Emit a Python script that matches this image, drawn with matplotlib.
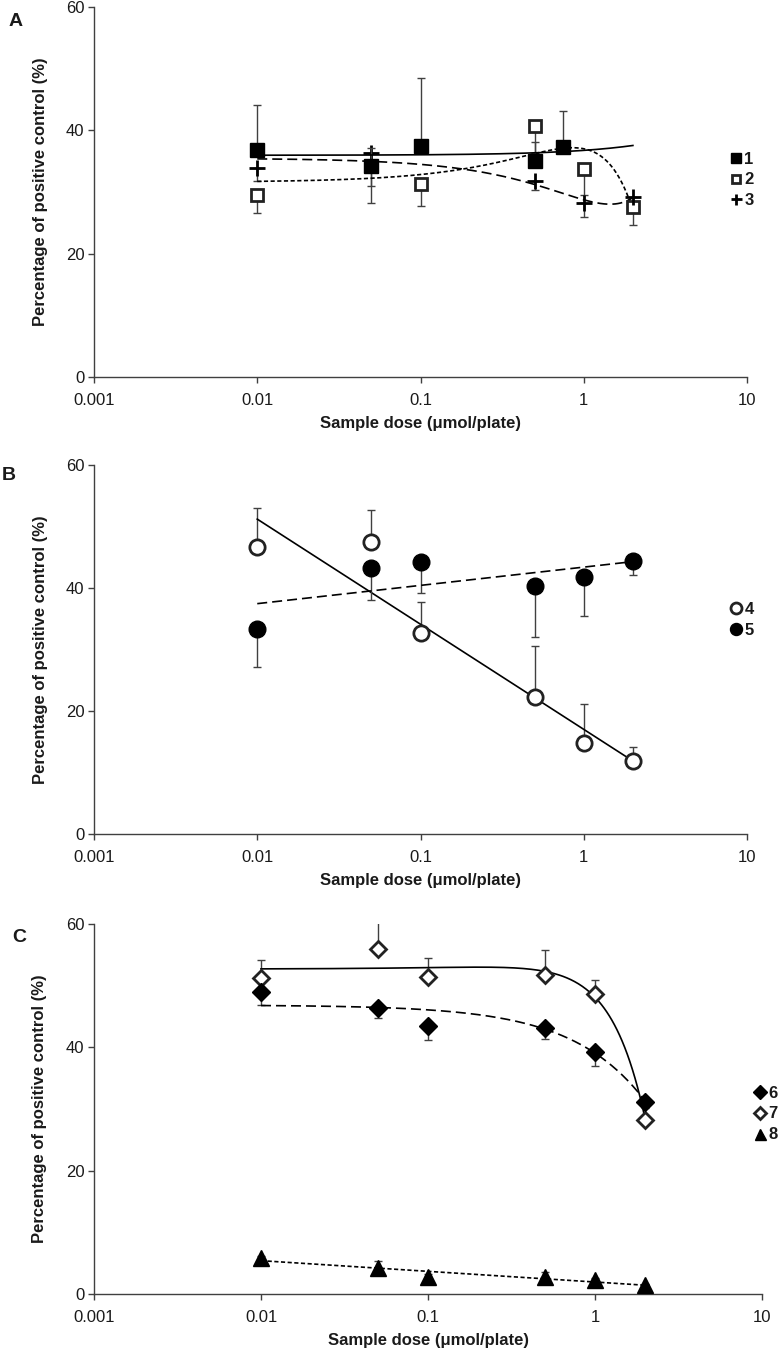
"""
Dose-response panels (A, B, C): percentage of positive control vs sample dose.
Output: out.png
"""

import matplotlib
matplotlib.use("Agg")

import numpy as np
import matplotlib.pyplot as plt
from matplotlib.lines import Line2D

plt.rcParams["font.family"] = ["Liberation Sans", "DejaVu Sans"]

# --- Data ---
# Panel A
X1 = [0.01, 0.05, 0.1, 0.5, 0.75]
Y1 = [36.8, 34.2, 37.5, 35.1, 37.3]
E1 = [7.3, 3.0, 11.0, 3.0, 5.9]        # upward

X2 = [0.01, 0.05, 0.1, 0.5, 1, 2]
Y2 = [29.5, 34.2, 31.3, 40.7, 33.8, 27.6]
E2 = [2.9, 6.0, 3.6, 4.4, 4.3, 2.9]    # downward

X3 = [0.01, 0.05, 0.5, 1, 2]
Y3 = [33.9, 36.3, 31.8, 28.2, 29.2]
E3 = [2.1, 5.4, 1.5, 2.2, 1.0]         # downward

# Panel B
X4 = [0.01, 0.05, 0.1, 0.5, 1, 2]
Y4 = [46.6, 47.4, 32.7, 22.2, 14.8, 11.9]
E4 = [6.4, 5.3, 5.0, 8.3, 6.4, 2.2]    # upward

X5 = [0.01, 0.05, 0.1, 0.5, 1, 2]
Y5 = [33.4, 43.3, 44.3, 40.4, 41.8, 44.4]
E5 = [6.2, 5.3, 5.1, 8.3, 6.3, 2.3]    # downward

# Panel C
X6 = [0.01, 0.05, 0.1, 0.5, 1, 2]
Y6 = [49.0, 46.4, 43.5, 43.2, 39.3, 31.2]
E6 = [2.1, 1.6, 2.3, 1.9, 2.3, 1.0]    # downward

X7 = [0.01, 0.05, 0.1, 0.5, 1, 2]
Y7 = [51.3, 56.0, 51.4, 51.7, 48.6, 28.2]
E7 = [2.8, 5.0, 3.1, 4.1, 2.4, 2.5]    # upward

X8 = [0.01, 0.05, 0.1, 0.5, 1, 2]
Y8 = [5.8, 4.2, 2.8, 2.7, 2.2, 1.4]
E8 = [0.3, 1.1, 0.4, 0.8, 0.4, 0.2]    # upward

X_TICKS = [0.001, 0.01, 0.1, 1, 10]
X_TICKLABELS = ["0.001", "0.01", "0.1", "1", "10"]
Y_TICKS = [0, 20, 40, 60]

INK = "#1a1a1a"
AXC = "#404040"

# marker styles
FILLED_SQ = dict(marker="s", ms=10, mfc="black", mec="black", mew=1)
OPEN_SQ = dict(marker="s", ms=8.5, mfc="white", mec="#222222", mew=2)
PLUS = dict(marker="+", ms=11, mec="black", mew=2)
OPEN_CI = dict(marker="o", ms=11, mfc="white", mec="#222222", mew=2)
FILLED_CI = dict(marker="o", ms=12, mfc="black", mec="black", mew=1)
FILLED_DI = dict(marker="D", ms=9.5, mfc="black", mec="black", mew=1)
OPEN_DI = dict(marker="D", ms=8.5, mfc="white", mec="#222222", mew=2)
TRI = dict(marker="^", ms=11, mfc="black", mec="black", mew=1)

SOLID = "-"
DASH = (0, (6, 3))
DOT = (0, (2.5, 1.5))


def trend(x, y, kind):
    """Excel-style trendline fitted to the series, drawn from 0.01 to 2."""
    x = np.asarray(x, float)
    y = np.asarray(y, float)
    xs = np.logspace(np.log10(0.01), np.log10(2), 300)
    if kind == "log":
        b, a = np.polyfit(np.log(x), y, 1)
        return xs, a + b * np.log(xs)
    deg = {"lin": 1, "poly2": 2, "poly3": 3}[kind]
    p = np.polyfit(x, y, deg)
    return xs, np.polyval(p, xs)


def plot_series(ax, x, y, e, up, style, ls, kind, z):
    x = np.asarray(x, float)
    y = np.asarray(y, float)
    e = np.asarray(e, float)
    zeros = np.zeros_like(e)
    yerr = [zeros, e] if up else [e, zeros]
    ax.errorbar(x, y, yerr=yerr, fmt="none", ecolor=AXC, elinewidth=1,
                capsize=2.6, capthick=1, zorder=z)
    xs, ys = trend(x, y, kind)
    ax.plot(xs, ys, color="black", lw=1.2, linestyle=ls, zorder=z + 1)
    ax.plot(x, y, linestyle="none", zorder=z + 2, clip_on=False, **style)


def style_axes(ax):
    ax.set_xscale("log")
    ax.set_xlim(0.001, 10)
    ax.set_ylim(0, 60)
    ax.set_xticks(X_TICKS)
    ax.set_xticklabels(X_TICKLABELS)
    ax.minorticks_off()
    ax.set_yticks(Y_TICKS)
    for s in ("top", "right"):
        ax.spines[s].set_visible(False)
    for s in ("left", "bottom"):
        ax.spines[s].set_color(AXC)
        ax.spines[s].set_linewidth(1.0)
    ax.tick_params(axis="both", colors=AXC, labelcolor=INK, labelsize=12,
                   length=4.5, width=1, direction="out")
    ax.tick_params(axis="x", pad=7)
    ax.tick_params(axis="y", pad=2.5)
    ax.set_ylabel("Percentage of positive control (%)", fontsize=12,
                  fontweight="bold", color=INK)
    ax.set_xlabel("Sample dose (\u03bcmol/plate)", fontsize=12,
                  fontweight="bold", color=INK)
    ax.yaxis.set_label_coords(-0.071, 0.5)
    ax.xaxis.set_label_coords(0.5, -0.105)
    ax.patch.set_alpha(0)


def add_legend(fig, items, x, y):
    handles = [Line2D([], [], linestyle="none", **st) for st in items.values()]
    leg = fig.legend(handles, list(items.keys()), loc="center left",
                     bbox_to_anchor=(x, y), frameon=False, markerscale=0.72,
                     handlelength=0.6, handletextpad=0.2, labelspacing=0.35,
                     borderpad=0, borderaxespad=0,
                     prop=dict(size=12, weight="bold"))
    for t in leg.get_texts():
        t.set_color(INK)


def main():
    W, H = 778, 1353
    fig = plt.figure(figsize=(W / 100, H / 100), dpi=100)

    def axes_px(left, right, top, bottom):
        return fig.add_axes([left / W, 1 - bottom / H, (right - left) / W,
                             (bottom - top) / H])

    axA = axes_px(94, 747, 7, 377)
    axB = axes_px(94, 747, 465, 834)
    axC = axes_px(94, 762, 924, 1294)

    # Panel A
    plot_series(axA, X2, Y2, E2, False, OPEN_SQ, DOT, "poly2", 3)
    plot_series(axA, X3, Y3, E3, False, PLUS, DASH, "poly2", 3)
    plot_series(axA, X1, Y1, E1, True, FILLED_SQ, SOLID, "lin", 6)

    # Panel B
    plot_series(axB, X4, Y4, E4, True, OPEN_CI, SOLID, "log", 3)
    plot_series(axB, X5, Y5, E5, False, FILLED_CI, DASH, "log", 6)

    # Panel C
    plot_series(axC, X7, Y7, E7, True, OPEN_DI, SOLID, "poly2", 3)
    plot_series(axC, X6, Y6, E6, False, FILLED_DI, DASH, "lin", 6)
    plot_series(axC, X8, Y8, E8, True, TRI, DOT, "log", 9)

    for ax in (axA, axB, axC):
        style_axes(ax)

    fig.text(9 / W, 1 - 21 / H, "A", fontsize=14, fontweight="bold",
             color=INK, va="center")
    fig.text(2 / W, 1 - 476 / H, "B", fontsize=14, fontweight="bold",
             color=INK, va="center")
    fig.text(12 / W, 1 - 938 / H, "C", fontsize=14, fontweight="bold",
             color=INK, va="center")

    add_legend(fig, {"1": FILLED_SQ, "2": OPEN_SQ, "3": PLUS},
               731 / W, 1 - 180 / H)
    add_legend(fig, {"4": OPEN_CI, "5": FILLED_CI}, 731 / W, 1 - 620 / H)
    add_legend(fig, {"6": FILLED_DI, "7": OPEN_DI, "8": TRI},
               755 / W, 1 - 1114 / H)

    fig.savefig("out.png", dpi=100, facecolor="white")
    plt.close(fig)


if __name__ == "__main__":
    main()
